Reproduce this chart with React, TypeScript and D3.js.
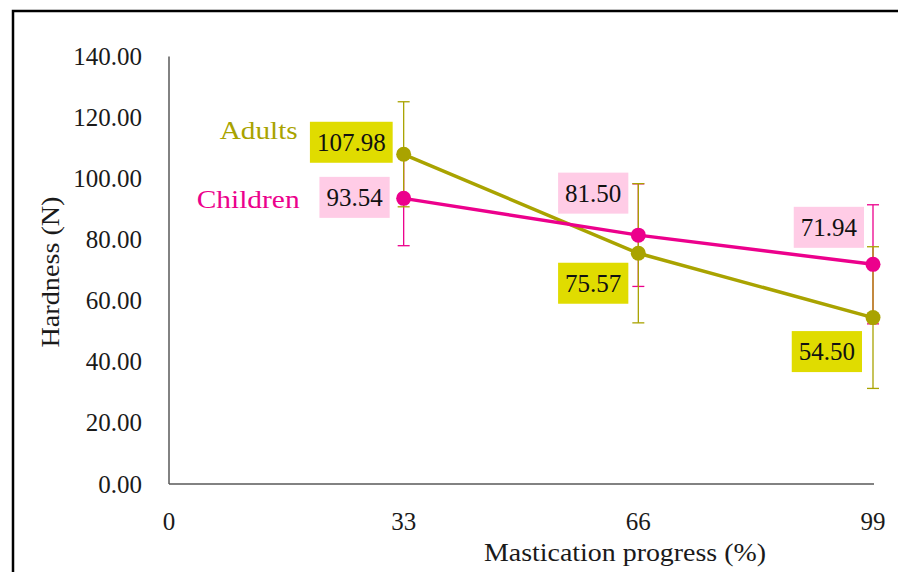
import React, { useRef, useEffect } from 'react';
import * as d3 from 'd3';

const progress = [33, 66, 99];
const xTicks = [0, 33, 66, 99];
const yTicks = [0, 20, 40, 60, 80, 100, 120, 140];

const adults = [107.98, 75.57, 54.5];
const adultsErr = [17.2, 22.8, 23.2];
const children = [93.54, 81.5, 71.94];
const childrenErr = [15.5, 16.8, 19.5];

const seriesNames = ['Adults', 'Children'];

const OLIVE = '#A9A300';
const MAGENTA = '#EC008C';
const FONT = '"Liberation Serif", "Times New Roman", serif';

// label placement relative to the point: right edge offset, vertical centre offset
const adultsLabelPos = [[-11, -12], [-10, 30], [-11, 34]];
const childrenLabelPos = [[-14, -1], [-10, -42], [-9, -37]];

const App: React.FC = () => {
  const svgRef = useRef<SVGSVGElement | null>(null);

  useEffect(() => {
    const svg = d3.select(svgRef.current!);
    svg.selectAll('*').remove();

    const x = d3.scaleLinear().domain([0, 99]).range([169, 873]);
    const y = d3.scaleLinear().domain([0, 140]).range([484, 56.5]);

    // frame (right and bottom edges fall outside the picture)
    svg.append('rect')
      .attr('x', 13).attr('y', 11)
      .attr('width', 1000).attr('height', 1000)
      .attr('fill', 'white')
      .attr('stroke', '#000').attr('stroke-width', 2.5);

    // axes
    svg.append('line')
      .attr('x1', x(0)).attr('x2', x(0))
      .attr('y1', y(140)).attr('y2', y(0))
      .attr('stroke', '#595959').attr('stroke-width', 1.5);
    svg.append('line')
      .attr('x1', x(0)).attr('x2', x(99) + 1)
      .attr('y1', y(0)).attr('y2', y(0))
      .attr('stroke', '#595959').attr('stroke-width', 1.5);

    svg.selectAll('text.ytick')
      .data(yTicks)
      .enter()
      .append('text')
      .attr('class', 'ytick')
      .attr('x', 142)
      .attr('y', (d) => y(d) + 8.5)
      .attr('text-anchor', 'end')
      .attr('font-family', FONT)
      .attr('font-size', 25)
      .attr('fill', '#1a1a1a')
      .text((d) => d.toFixed(2));

    svg.selectAll('text.xtick')
      .data(xTicks)
      .enter()
      .append('text')
      .attr('class', 'xtick')
      .attr('x', (d) => x(d))
      .attr('y', 530)
      .attr('text-anchor', 'middle')
      .attr('font-family', FONT)
      .attr('font-size', 25)
      .attr('fill', '#1a1a1a')
      .text((d) => String(d));

    svg.append('text')
      .attr('x', 625).attr('y', 561)
      .attr('text-anchor', 'middle')
      .attr('font-family', FONT)
      .attr('font-size', 25)
      .attr('fill', '#1a1a1a')
      .attr('textLength', 282)
      .attr('lengthAdjust', 'spacingAndGlyphs')
      .text('Mastication progress (%)');

    svg.append('text')
      .attr('transform', 'translate(59,272) rotate(-90)')
      .attr('text-anchor', 'middle')
      .attr('font-family', FONT)
      .attr('font-size', 25)
      .attr('fill', '#1a1a1a')
      .attr('textLength', 151)
      .attr('lengthAdjust', 'spacingAndGlyphs')
      .text('Hardness (N)');

    const drawErrors = (values: number[], errs: number[], color: string) => {
      const bars = svg.append('g')
        .selectAll('g.err')
        .data(values.map((v, i) => ({ x: progress[i], v, e: errs[i] })))
        .enter()
        .append('g')
        .attr('stroke', color)
        .attr('stroke-width', 1.3);
      bars.append('line')
        .attr('x1', (d) => x(d.x)).attr('x2', (d) => x(d.x))
        .attr('y1', (d) => y(d.v + d.e)).attr('y2', (d) => y(d.v - d.e));
      bars.append('line')
        .attr('x1', (d) => x(d.x) - 6).attr('x2', (d) => x(d.x) + 6)
        .attr('y1', (d) => y(d.v + d.e)).attr('y2', (d) => y(d.v + d.e));
      bars.append('line')
        .attr('x1', (d) => x(d.x) - 6).attr('x2', (d) => x(d.x) + 6)
        .attr('y1', (d) => y(d.v - d.e)).attr('y2', (d) => y(d.v - d.e));
    };

    const drawSeries = (values: number[], color: string) => {
      const g = svg.append('g');
      const line = d3.line<number>()
        .x((_, i) => x(progress[i]))
        .y((d) => y(d));
      g.append('path')
        .attr('d', line(values)!)
        .attr('fill', 'none')
        .attr('stroke', color)
        .attr('stroke-width', 3.5);

      g.selectAll('circle')
        .data(values)
        .enter()
        .append('circle')
        .attr('cx', (_, i) => x(progress[i]))
        .attr('cy', (d) => y(d))
        .attr('r', 7.5)
        .attr('fill', color);
    };

    drawErrors(children, childrenErr, MAGENTA);
    drawErrors(adults, adultsErr, OLIVE);
    drawSeries(adults, OLIVE);
    drawSeries(children, MAGENTA);

    const drawLabels = (values: number[], pos: number[][], fill: string) => {
      values.forEach((v, i) => {
        const g = svg.append('g');
        const right = x(progress[i]) + pos[i][0];
        const cy = y(v) + pos[i][1];
        const rect = g.append('rect').attr('fill', fill);
        const t = g.append('text')
          .attr('x', right - 7)
          .attr('y', cy + 8.5)
          .attr('text-anchor', 'end')
          .attr('font-family', FONT)
          .attr('font-size', 25)
          .attr('fill', '#111')
          .text(v.toFixed(2));
        const w = (t.node() as SVGTextElement).getComputedTextLength();
        rect
          .attr('x', right - w - 14)
          .attr('y', cy - 20.5)
          .attr('width', w + 14)
          .attr('height', 41);
      });
    };

    drawLabels(adults, adultsLabelPos, '#E0DC00');
    drawLabels(children, childrenLabelPos, '#FFCCE6');

    // series names beside the first points
    svg.append('text')
      .attr('x', x(progress[0]) - 106)
      .attr('y', y(adults[0]) - 15)
      .attr('text-anchor', 'end')
      .attr('font-family', FONT)
      .attr('font-size', 25)
      .attr('fill', OLIVE)
      .attr('textLength', 78)
      .attr('lengthAdjust', 'spacingAndGlyphs')
      .text(seriesNames[0]);
    svg.append('text')
      .attr('x', x(progress[0]) - 104)
      .attr('y', y(children[0]) + 10)
      .attr('text-anchor', 'end')
      .attr('font-family', FONT)
      .attr('font-size', 25)
      .attr('fill', MAGENTA)
      .attr('textLength', 103)
      .attr('lengthAdjust', 'spacingAndGlyphs')
      .text(seriesNames[1]);
  }, []);

  return (
    <svg
      ref={svgRef}
      width={898}
      height={572}
      style={{ position: 'absolute', left: 0, top: 0, background: 'white' }}
    />
  );
};

export default App;
